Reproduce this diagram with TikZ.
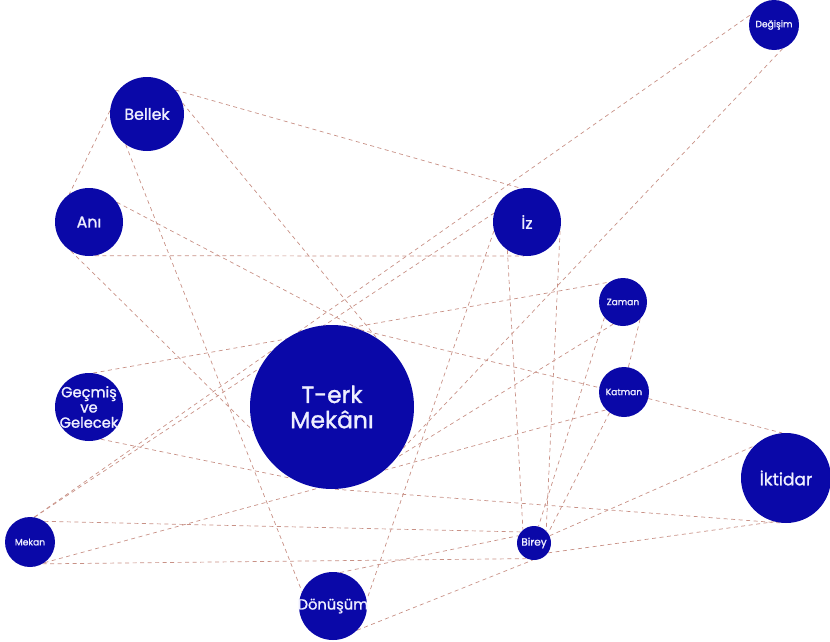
\documentclass[tikz,border=0pt]{standalone}
\usepackage{fontspec}
\setmainfont{Poppins}[FakeBold=1.3]
\usetikzlibrary{backgrounds}
\definecolor{ink}{RGB}{10,8,168}
\definecolor{paper}{RGB}{238,238,255}
\definecolor{rope}{RGB}{200,145,134}

\begin{document}
\begin{tikzpicture}[x=0.03cm,y=-0.03cm,
  blob/.style={circle,fill=ink,text=paper,inner sep=0pt,align=center,minimum size=#1*0.06cm},
  link/.style={rope,line width=0.6pt,dash pattern=on 3.4pt off 3pt}]
\def\fBig{\fontsize{20}{21.5}\selectfont}
\def\fMid{\fontsize{13.5}{14}\selectfont}
\def\fSmall{\fontsize{7.8}{8.5}\selectfont}
  \useasboundingbox (0,0) rectangle (830,642);
  %\draw[help lines,step=50] (0,0) grid (830,642);
\path
(147,114) node [blob=37,font=\fMid] (bellek) {Bellek}
(89,222) node [blob=34,font=\fMid] (ani) {Anı}
(527,222) node [blob=34,font=\fMid] (iz) {İz}
(774,25) node [blob=25,font=\fSmall] (degisim) {Değişim}
(623,302) node [blob=24,font=\fSmall] (zaman) {Zaman}
(624,392) node [blob=25,font=\fSmall] (katman) {Katman}
(786,478) node [blob=45,font=\fontsize{14.5}{15}\selectfont] (iktidar) {İktidar}
(534,543) node [blob=17,font=\fontsize{9}{10}\selectfont] (birey) {Birey}
(332,407) node [blob=82,font=\fBig] (terk) {T-erk\\Mekânı}
(89,407) node [blob=34,inner sep=-3pt,font=\fontsize{12.5}{13}\selectfont] (gecmis) {Geçmiş\\ve\\Gelecek}
(30,542) node [blob=25,font=\fSmall] (mekan) {Mekan}
(333,606) node [blob=34,inner sep=-2pt,font=\fontsize{12.5}{13}\selectfont] (donusum) {Dönüşüm}
;
\begin{scope}[on background layer]
  \draw[link] (bellek.40) -- (iz.100);
  \draw[link] (bellek.175) -- (ani.125);
  \draw[link] (bellek.235) -- (donusum.155);
  \draw[link] (bellek.17) -- (terk.57);
  \draw[link] (ani.-80) -- (iz.-95);
  \draw[link] (ani.35) -- (terk.70);
  \draw[link] (ani.238) -- (terk.197);
  \draw[link] (gecmis.83) -- (zaman.125);
  \draw[link] (gecmis.-70) -- (terk.240);
  \draw[link] (mekan.80) -- (degisim.155);
  \draw[link] (mekan.80) -- (iz.165);
  \draw[link] (mekan.55) -- (birey.140);
  \draw[link] (mekan.-60) -- (birey.-115);
  \draw[link] (mekan.-55) -- (katman.225);
  \draw[link] (degisim.-70) -- (terk.-30);
  \draw[link] (iz.195) -- (donusum.10);
  \draw[link] (iz.235) -- (birey.130);
  \draw[link] (iz.-15) -- (birey.45);
  \draw[link] (zaman.220) -- (birey.75);
  \draw[link] (zaman.246) -- (terk.-38);
  \draw[link] (zaman.-45) -- (katman.80);
  \draw[link] (terk.70) -- (katman.170);
  \draw[link] (katman.-15) -- (iktidar.95);
  \draw[link] (katman.235) -- (birey.35);
  \draw[link] (birey.25) -- (iktidar.135);
  \draw[link] (birey.-35) -- (iktidar.-105);
  \draw[link] (terk.-88) -- (iktidar.-95);
  \draw[link] (donusum.-45) -- (birey.-95);
  \draw[link] (donusum.78) -- (birey.155);
\end{scope}
\end{tikzpicture}
\end{document}
